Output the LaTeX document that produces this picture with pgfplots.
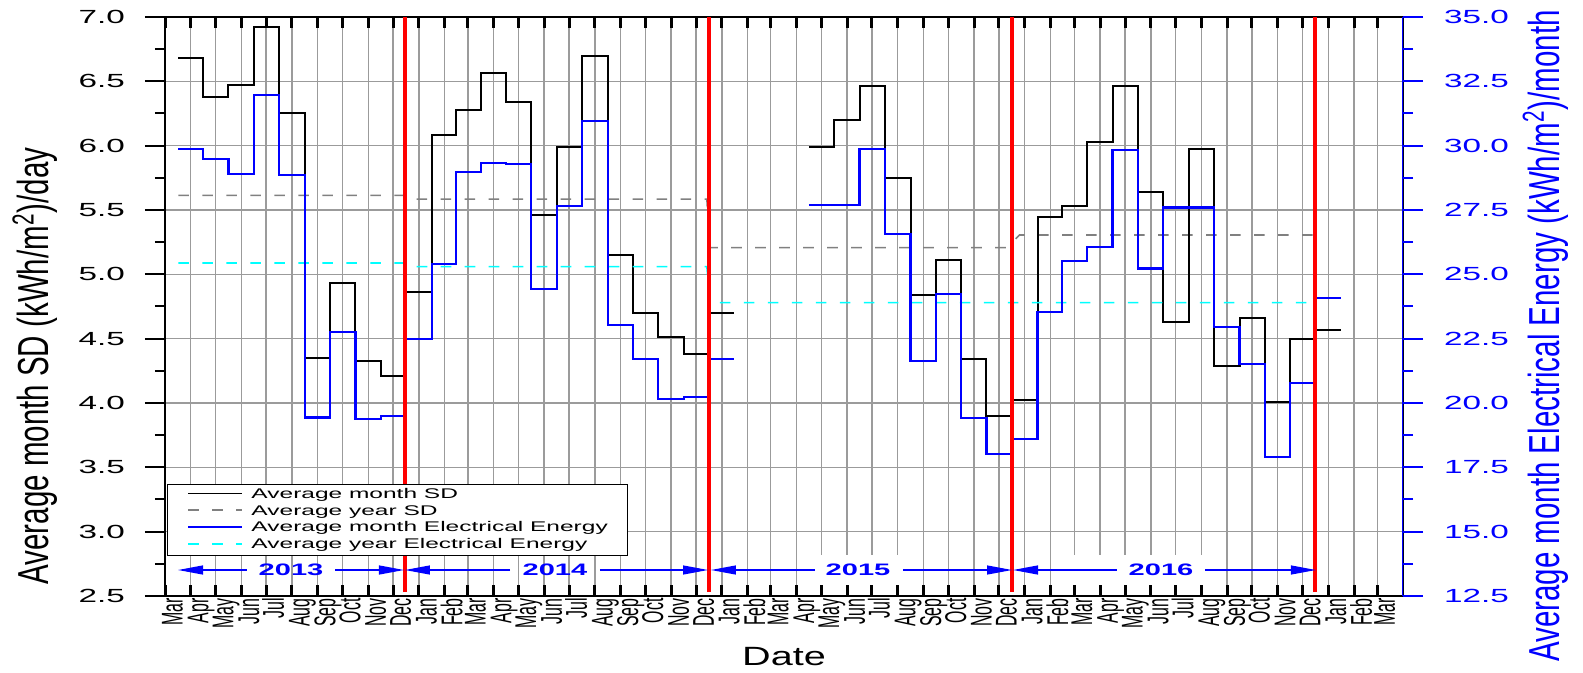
\documentclass[border=0pt]{standalone}
\usepackage{pgfplots}
\pgfplotsset{compat=1.18}
\usepackage{fontspec}
\setmainfont{Liberation Sans}[FakeStretch=1.75]
\newfontfamily\monthfont{Liberation Sans}[FakeStretch=0.53]
\newfontfamily\ylabfont{Liberation Sans}[FakeStretch=0.68]
\newfontfamily\datefont{Liberation Sans}[FakeStretch=1.5]
\usetikzlibrary{arrows.meta}
\definecolor{gridgray}{RGB}{155,155,155}
\definecolor{dgray}{RGB}{128,128,128}
\definecolor{eblue}{RGB}{0,0,255}
\definecolor{ecyan}{RGB}{0,255,255}
\definecolor{ered}{RGB}{255,0,0}
\pgfplotsset{
  base/.style={scale only axis, width=619pt, height=289.5pt, xmin=0, xmax=1492},
  monthx/.style={xtick={0,31,61,92,122,153,184,214,245,275,306,337,365,396,426,457,487,518,549,579,610,640,671,702,730,761,791,822,852,883,914,944,975,1005,1036,1067,1096,1127,1157,1188,1218,1249,1280,1310,1341,1371,1402,1433,1461}},
}
\begin{document}
\begin{tikzpicture}
\path[use as bounding box] (-82.5pt,-38.5pt) rectangle (709pt,298pt);
% grid layer
\begin{axis}[base, monthx, ymin=2.5, ymax=7, ytick={3,3.5,4,4.5,5,5.5,6,6.5},
  xmajorgrids, ymajorgrids, grid style={gridgray, line width=0.75pt},
  major tick length=0pt, xticklabels={}, yticklabels={}, axis line style={draw=none}]
\fill[white] (axis cs:765,2.562) rectangle (axis cs:892,2.819);
\fill[white] (axis cs:1081,2.562) rectangle (axis cs:1265,2.819);
\end{axis}
% x axis layer
\begin{axis}[base, monthx, ymin=2.5, ymax=7, ytick=\empty,
  xticklabels={Mar,Apr,May,Jun,Jul,Aug,Sep,Oct,Nov,Dec,Jan,Feb,Mar,Apr,May,Jun,Jul,Aug,Sep,Oct,Nov,Dec,Jan,Feb,Mar,Apr,May,Jun,Jul,Aug,Sep,Oct,Nov,Dec,Jan,Feb,Mar,Apr,May,Jun,Jul,Aug,Sep,Oct,Nov,Dec,Jan,Feb,Mar},
  xtick pos=both, xticklabel pos=lower, tick align=inside,
  major tick length=5.5pt, tick style={black, line width=1.5pt},
  axis line style={black, line width=1pt},
  xticklabel style={rotate=90, anchor=east, font=\monthfont\fontsize{15}{16}\selectfont, inner sep=0pt, text height=10.7pt, text depth=0pt, yshift=-3.5pt, xshift=-1pt},
  xlabel={Date}, xlabel style={font=\datefont\fontsize{13.2}{14}\selectfont, at={(axis description cs:0.5,0)}, anchor=base, yshift=-34.5pt}]
\end{axis}
% left axis
\begin{axis}[base, ymin=2.5, ymax=7, hide x axis, ytick pos=left,
  ytick={2.5,3,3.5,4,4.5,5,5.5,6,6.5,7}, minor y tick num=1,
  tick align=outside, major tick length=10pt, minor tick length=5pt,
  tick style={black, line width=1pt}, axis line style={draw=none},
  /pgf/number format/assume math mode=true,
  yticklabel style={font=\fontsize{9.5}{10}\selectfont, xshift=-6.5pt, /pgf/number format/fixed, /pgf/number format/fixed zerofill, /pgf/number format/precision=1},
  ylabel={Average month SD (kWh/m\textsuperscript{2})/day},
  ylabel style={font=\ylabfont\fontsize{21.7}{24}\selectfont, at={(axis description cs:-0.105,0.397)}, anchor=center}]
\addplot[dgray, line width=0.8pt, dash pattern=on 5.3pt off 6.7pt] coordinates {(16,5.614)(288,5.614)(292,5.585)(653,5.585)(657,5.207)(1014,5.207)(1030,5.306)(1384,5.306)};
\addplot[black, line width=1pt, const plot mark mid] coordinates {(16,6.68)(31,6.68)(61,6.38)(92,6.47)(122,6.92)(153,6.25)(184,4.35)(214,4.93)(245,4.33)(275,4.21)(306,4.86)(337,6.085)(365,6.28)(396,6.565)(426,6.34)(457,5.46)(487,5.99)(518,6.70)(549,5.15)(579,4.70)(610,4.515)(640,4.383)(671,4.70)(686,4.70)};
\addplot[black, line width=1pt, const plot mark mid] coordinates {(776,5.99)(791,5.99)(822,6.197)(852,6.464)(883,5.749)(914,4.842)(944,5.114)(975,4.342)(1005,3.901)(1036,4.021)(1067,5.448)(1096,5.529)(1127,6.031)(1157,6.464)(1188,5.64)(1218,4.632)(1249,5.976)(1280,4.288)(1310,4.658)(1341,4.005)(1371,4.495)(1402,4.567)(1417,4.567)};
\draw[black, line width=1.5pt] (rel axis cs:0,0) -- (rel axis cs:0,1);
\end{axis}
% right axis
\begin{axis}[base, ymin=12.5, ymax=35, hide x axis, ytick pos=right,
  ytick={12.5,15,17.5,20,22.5,25,27.5,30,32.5,35}, minor y tick num=1,
  tick align=outside, major tick length=10pt, minor tick length=5pt,
  tick style={eblue, line width=1pt}, axis line style={draw=none},
  /pgf/number format/assume math mode=true,
  yticklabel style={eblue, font=\fontsize{9.5}{10}\selectfont, xshift=7pt, /pgf/number format/fixed, /pgf/number format/fixed zerofill, /pgf/number format/precision=1},
  ylabel={Average month Electrical Energy (kWh/m\textsuperscript{2})/month},
  ylabel style={eblue, font=\ylabfont\fontsize{21.7}{24}\selectfont, at={(axis description cs:1.115,0.449)}, anchor=center},
  legend cell align=left,
  legend image code/.code={\draw[#1] (1.5pt,0.7pt) -- (28.5pt,0.7pt);},
  legend style={at={(axis description cs:0.0016,0.1934)}, anchor=north west, draw=black, line width=0.5pt, fill=white,
    font=\fontsize{7}{8.4}\selectfont, inner xsep=10pt, inner ysep=1.9pt, row sep=2pt, column sep=4pt,
    nodes={inner sep=0pt, text height=5pt, text depth=1.4pt}}]
\addlegendimage{black, line width=0.8pt}
\addlegendentry{Average month SD}
\addlegendimage{dgray, line width=0.8pt, dash pattern=on 5.3pt off 6.7pt}
\addlegendentry{Average year SD}
\addlegendimage{eblue, line width=1pt}
\addlegendentry{Average month Electrical Energy}
\addlegendimage{ecyan, line width=1pt, dash pattern=on 5.3pt off 6.7pt}
\addlegendentry{Average year Electrical Energy}
\addplot[ecyan, line width=0.8pt, dash pattern=on 5.3pt off 6.7pt] coordinates {(16,25.44)(288,25.44)(292,25.30)(653,25.30)(657,23.90)(1384,23.90)};
\addplot[eblue, line width=1.1pt, const plot mark mid] coordinates {(16,29.87)(31,29.87)(61,29.47)(92,28.91)(122,31.97)(153,28.87)(184,19.44)(214,22.76)(245,19.38)(275,19.48)(306,22.48)(337,25.39)(365,28.98)(396,29.34)(426,29.30)(457,24.44)(487,27.66)(518,30.95)(549,23.03)(579,21.70)(610,20.17)(640,20.24)(671,21.70)(686,21.70)};
\addplot[eblue, line width=1.1pt, const plot mark mid] coordinates {(776,27.68)(791,27.68)(822,27.70)(852,29.86)(883,26.56)(914,21.64)(944,24.25)(975,19.42)(1005,18.03)(1036,18.59)(1067,23.55)(1096,25.53)(1127,26.06)(1157,29.84)(1188,25.23)(1218,27.60)(1249,27.60)(1280,22.94)(1310,21.53)(1341,17.90)(1371,20.77)(1402,24.08)(1417,24.08)};
\addplot[ered, line width=2pt] coordinates {(289,12.65)(289,35)};
\addplot[ered, line width=2pt] coordinates {(655.5,12.65)(655.5,35)};
\addplot[ered, line width=2pt] coordinates {(1020.5,12.65)(1020.5,35)};
\addplot[ered, line width=2pt] coordinates {(1386.5,12.65)(1386.5,35)};
% year arrows
\begin{scope}[eblue, line width=0.6pt, -{Triangle[length=12.5pt,width=4.5pt]}]
\draw (axis cs:98.8,13.51) -- (axis cs:15.7,13.51);
\draw (axis cs:204.9,13.51) -- (axis cs:288,13.51);
\draw (axis cs:415.8,13.51) -- (axis cs:289.2,13.51);
\draw (axis cs:524.2,13.51) -- (axis cs:654.4,13.51);
\draw (axis cs:783.4,13.51) -- (axis cs:658,13.51);
\draw (axis cs:889.4,13.51) -- (axis cs:1020.8,13.51);
\draw (axis cs:1147.3,13.51) -- (axis cs:1022,13.51);
\draw (axis cs:1253.4,13.51) -- (axis cs:1387,13.51);
\end{scope}
\begin{scope}[every node/.style={eblue, font=\bfseries\fontsize{8.3}{9}\selectfont, inner sep=0pt}]
\node at (axis cs:151.9,13.51) {2013};
\node at (axis cs:470,13.51) {2014};
\node at (axis cs:835.2,13.51) {2015};
\node at (axis cs:1200.4,13.51) {2016};
\end{scope}
\draw[eblue, line width=1.5pt] (rel axis cs:1,0) -- (rel axis cs:1,1);
\end{axis}
\end{tikzpicture}
\end{document}
